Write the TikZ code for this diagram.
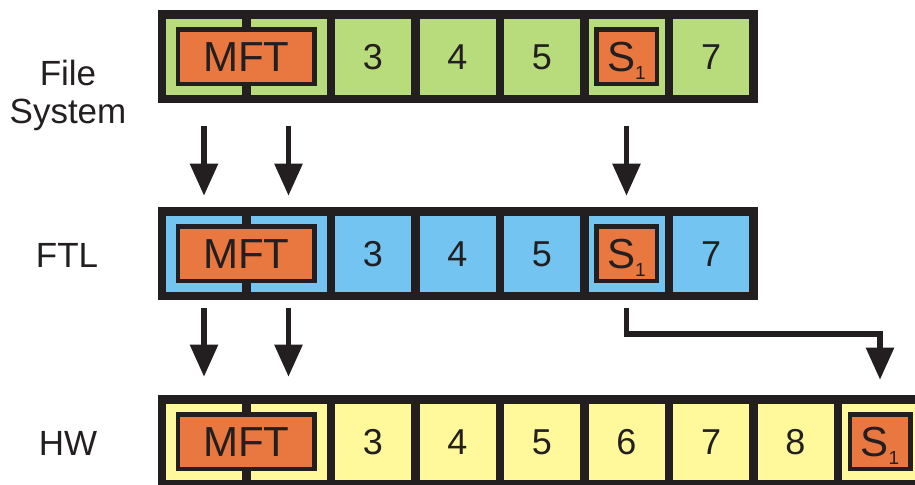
\documentclass[tikz,border=0pt]{standalone}
\usepackage{fontspec}
\setmainfont{Liberation Sans}
\usepackage{tikz}
\usetikzlibrary{positioning, arrows.meta, calc}
\usepackage{xcolor}

\definecolor{ink}{RGB}{35,31,32}
\definecolor{fsgreen}{RGB}{184,220,124}
\definecolor{ftlblue}{RGB}{115,196,240}
\definecolor{hwyellow}{RGB}{255,249,155}
\definecolor{tagorange}{RGB}{232,119,64}

% small index set low, as in S_1
\newcommand{\lowidx}[1]{\smash{\raisebox{-4pt}{\fontsize{9.5}{9.5}\selectfont #1}}}

\begin{document}
\begin{tikzpicture}[
    x=0.5pt, y=-0.5pt,
    cell/.style={draw=ink, line width=4.25pt, minimum size=42.25pt, inner sep=0pt, outer sep=0pt, text=ink, font=\fontsize{18}{20}\selectfont},
    fscell/.style={cell, fill=fsgreen},
    ftlcell/.style={cell, fill=ftlblue},
    hwcell/.style={cell, fill=hwyellow},
    tag/.style={draw=ink, fill=tagorange, line width=2.25pt, inner sep=0pt, minimum height=27.25pt, text=ink, font=\fontsize{21}{24}\selectfont},
    mft/.style={tag, minimum width=68.25pt},
    sone/.style={tag, minimum width=30.25pt},
    lbl/.style={align=center, text=ink, font=\fontsize{17.5}{19}\selectfont},
    arr/.style={-{Triangle[length=16pt, width=13.5pt]}, line width=2.75pt, color=ink},
]
\useasboundingbox (0,0) rectangle (915,485);

% File system blocks
\node[fscell] (f1) at (204,57) {};
\node[fscell, right=0pt of f1] (f2) {};
\node[fscell, right=0pt of f2] (f3) {3};
\node[fscell, right=0pt of f3] (f4) {4};
\node[fscell, right=0pt of f4] (f5) {5};
\node[fscell, right=0pt of f5] (f6) {};
\node[fscell, right=0pt of f6] (f7) {7};
\node[mft] (fmft) at ($(f1)!0.5!(f2)$) {MFT};
\node[sone] (fs1) at (f6) {S\lowidx{1}};

% FTL blocks
\node[ftlcell] (t1) at (204,254) {};
\node[ftlcell, right=0pt of t1] (t2) {};
\node[ftlcell, right=0pt of t2] (t3) {3};
\node[ftlcell, right=0pt of t3] (t4) {4};
\node[ftlcell, right=0pt of t4] (t5) {5};
\node[ftlcell, right=0pt of t5] (t6) {};
\node[ftlcell, right=0pt of t6] (t7) {7};
\node[mft] (tmft) at ($(t1)!0.5!(t2)$) {MFT};
\node[sone] (ts1) at (t6) {S\lowidx{1}};

% HW blocks (last one runs off the edge)
\node[hwcell] (h1) at (204,442) {};
\node[hwcell, right=0pt of h1] (h2) {};
\node[hwcell, right=0pt of h2] (h3) {3};
\node[hwcell, right=0pt of h3] (h4) {4};
\node[hwcell, right=0pt of h4] (h5) {5};
\node[hwcell, right=0pt of h5] (h6) {6};
\node[hwcell, right=0pt of h6] (h7) {7};
\node[hwcell, right=0pt of h7] (h8) {8};
\node[hwcell, right=0pt of h8] (h9) {};
\node[mft] (hmft) at ($(h1)!0.5!(h2)$) {MFT};
\node[sone] (hs1) at (h9) {S\lowidx{1}};

% Layer names
\node[lbl] (fslbl) at (68,95) {File\\System};
\node[lbl] (ftllbl) at (67,255) {FTL};
\node[lbl] (hwlbl) at (68,443) {HW};

% File system -> FTL
\draw[arr, shorten <=13.5pt, shorten >=8pt] (f1.south) -- (t1.north);
\draw[arr, shorten <=13.5pt, shorten >=8pt] (f2.south) -- (t2.north);
\draw[arr, shorten <=13.5pt, shorten >=8pt] (f6.south) -- (t6.north);

% FTL -> HW
\draw[arr, shorten <=6pt, shorten >=11.5pt] (t1.south) -- (h1.north);
\draw[arr, shorten <=6pt, shorten >=11.5pt] (t2.south) -- (h2.north);
\draw[arr, shorten <=6pt, shorten >=10pt] (t6.south) -- ++(0,38) -| (h9.north);
\end{tikzpicture}
\end{document}
